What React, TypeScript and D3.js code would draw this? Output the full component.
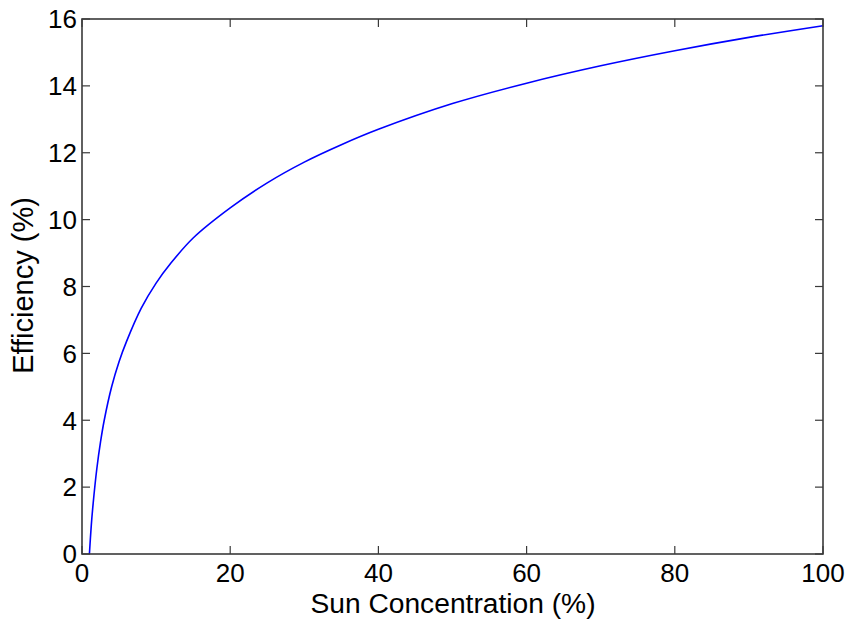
import React, { useEffect, useRef } from "react";
import * as d3 from "d3";

// Sun concentration (%) and resulting efficiency (%)
const concentration = [1, 1.25, 1.5, 2, 2.5, 3, 4, 5, 6, 8, 10, 12, 15, 20, 25, 30, 35, 40, 50, 60, 70, 80, 90, 100];
const efficiency = [0, 0.85, 1.5, 2.55, 3.35, 4.0, 5.0, 5.75, 6.35, 7.35, 8.1, 8.7, 9.45, 10.35, 11.1, 11.72, 12.24, 12.7, 13.47, 14.08, 14.6, 15.05, 15.45, 15.8];

const xTicks = [0, 20, 40, 60, 80, 100];
const yTicks = [0, 2, 4, 6, 8, 10, 12, 14, 16];

const W = 849;
const H = 619;
const M = { left: 82, right: 26, top: 19, bottom: 65 };
const FONT = "'Liberation Sans', Arial, sans-serif";

export default function App() {
  const ref = useRef<SVGSVGElement>(null);

  useEffect(() => {
    const svg = d3.select(ref.current);
    svg.selectAll("*").remove();

    const x0 = M.left, x1 = W - M.right, y0 = H - M.bottom, y1 = M.top;
    const x = d3.scaleLinear().domain([0, 100]).range([x0, x1]);
    const y = d3.scaleLinear().domain([0, 16]).range([y0, y1]);

    const axisColor = "#3a3a3a";
    const tickLen = 8;
    const g = svg.append("g");

    // curve
    const line = d3
      .line<number>()
      .x((_, i) => x(concentration[i]))
      .y((d) => y(d))
      .curve(d3.curveCatmullRom.alpha(0.5));
    g.append("path")
      .attr("d", line(efficiency))
      .attr("fill", "none")
      .attr("stroke", "#0000ff")
      .attr("stroke-width", 1.6);

    // ticks on all four sides, pointing inward
    xTicks.forEach((t) => {
      g.append("line").attr("x1", x(t)).attr("x2", x(t)).attr("y1", y0).attr("y2", y0 - tickLen)
        .attr("stroke", axisColor).attr("stroke-width", 1.2);
      g.append("line").attr("x1", x(t)).attr("x2", x(t)).attr("y1", y1).attr("y2", y1 + tickLen)
        .attr("stroke", axisColor).attr("stroke-width", 1.2);
      g.append("text").attr("x", x(t)).attr("y", y0 + 28)
        .attr("text-anchor", "middle").attr("font-family", FONT).attr("font-size", 26)
        .attr("fill", "#000").text(String(t));
    });
    yTicks.forEach((t) => {
      g.append("line").attr("x1", x0).attr("x2", x0 + tickLen).attr("y1", y(t)).attr("y2", y(t))
        .attr("stroke", axisColor).attr("stroke-width", 1.2);
      g.append("line").attr("x1", x1).attr("x2", x1 - tickLen).attr("y1", y(t)).attr("y2", y(t))
        .attr("stroke", axisColor).attr("stroke-width", 1.2);
      g.append("text").attr("x", x0 - 5).attr("y", y(t)).attr("dy", "0.36em")
        .attr("text-anchor", "end").attr("font-family", FONT).attr("font-size", 26)
        .attr("fill", "#000").text(String(t));
    });

    // frame
    g.append("rect").attr("x", x0).attr("y", y1).attr("width", x1 - x0).attr("height", y0 - y1)
      .attr("fill", "none").attr("stroke", axisColor).attr("stroke-width", 1.6);

    // axis titles
    g.append("text").attr("x", (x0 + x1) / 2 + 0.5).attr("y", y0 + 58.5)
      .attr("text-anchor", "middle").attr("font-family", FONT).attr("font-size", 28.2)
      .attr("fill", "#000").text("Sun Concentration (%)");
    g.append("text")
      .attr("transform", `translate(33,${(y0 + y1) / 2 - 1}) rotate(-90)`)
      .attr("text-anchor", "middle").attr("font-family", FONT).attr("font-size", 29)
      .attr("fill", "#000").text("Efficiency (%)");
  }, []);

  return (
    <svg
      ref={ref}
      width={W}
      height={H}
      style={{ position: "absolute", left: 0, top: 0, background: "#fff" }}
    />
  );
}
